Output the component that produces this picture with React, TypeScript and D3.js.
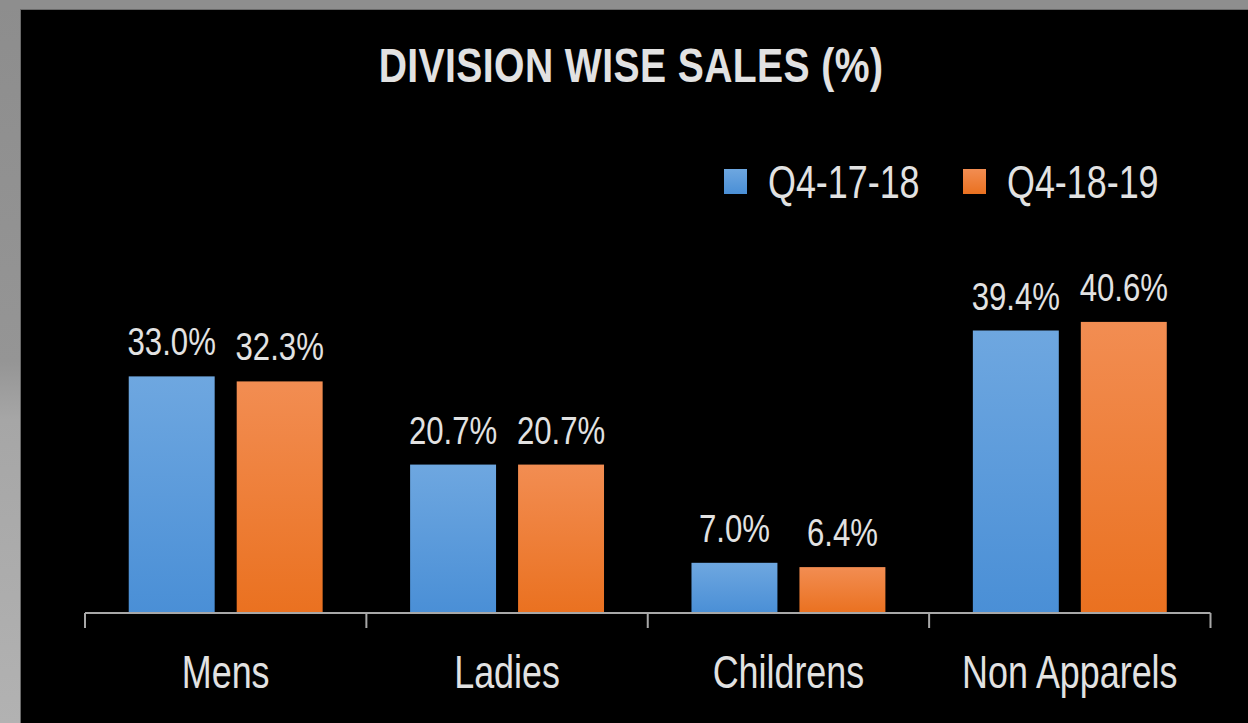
import React from "react";
import * as d3 from "d3";

const categories = ["Mens", "Ladies", "Childrens", "Non Apparels"];
const seriesNames = ["Q4-17-18", "Q4-18-19"];
const q41718 = [33.0, 20.7, 7.0, 39.4];
const q41819 = [32.3, 20.7, 6.4, 40.6];
const seriesValues = [q41718, q41819];
const title = "DIVISION WISE SALES (%)";

const W = 1248;
const H = 723;
const FONT = "'Liberation Sans', Arial, sans-serif";
const TEXT = "#e2e2e2";

export default function App() {
  const baseline = 613;
  const y = d3.scaleLinear().domain([0, 45]).range([baseline, baseline - 45 * 7.17]);
  const x = d3.scaleBand<string>().domain(categories).range([85, 1210.5]).paddingInner(0).paddingOuter(0);
  const xs = d3
    .scaleBand<string>()
    .domain(seriesNames)
    .range([0, x.bandwidth()])
    .paddingInner(0.204)
    .paddingOuter(0.405);

  const tickXs = categories.map((c) => x(c)!).concat([x.range()[1]]);
  const gradIds = ["gBlue", "gOrange"];

  return (
    <svg
      width={W}
      height={H}
      style={{ position: "absolute", left: 0, top: 0, display: "block" }}
      fontFamily={FONT}
    >
      <defs>
        <linearGradient id="frame" x1="0" y1="0" x2="0" y2="1">
          <stop offset="0" stopColor="#8d8d8d" />
          <stop offset="0.5" stopColor="#959595" />
          <stop offset="0.58" stopColor="#a6a6a6" />
          <stop offset="1" stopColor="#b2b2b2" />
        </linearGradient>
        <linearGradient id="gBlue" x1="0" y1="0" x2="0" y2="1">
          <stop offset="0" stopColor="#6ea7e0" />
          <stop offset="1" stopColor="#4a8fd6" />
        </linearGradient>
        <linearGradient id="gOrange" x1="0" y1="0" x2="0" y2="1">
          <stop offset="0" stopColor="#f28d52" />
          <stop offset="1" stopColor="#ea7120" />
        </linearGradient>
      </defs>
      <rect x={0} y={0} width={W} height={H} fill="url(#frame)" />
      <rect x={0} y={0} width={W} height={10} fill="#8e8e8e" />
      <rect x={20} y={9} width={W - 20} height={H - 9} fill="#6a6a6a" />
      <rect x={21} y={10} width={W - 21} height={H - 10} fill="#000" />

      <text
        transform={`translate(631,82) scale(0.815,1)`}
        textAnchor="middle"
        fontSize={48}
        fontWeight="bold"
        fill={TEXT}
        letterSpacing={0.5}
      >
        {title}
      </text>

      {/* legend */}
      {seriesNames.map((s, i) => {
        const lx = [724, 963][i];
        return (
          <g key={s}>
            <rect x={lx} y={169} width={23} height={25} fill={`url(#${gradIds[i]})`} />
            <text
              transform={`translate(${lx + 44},198) scale(0.78,1)`}
              fontSize={46}
              fill={TEXT}
            >
              {s}
            </text>
          </g>
        );
      })}

      {/* bars */}
      {categories.map((c, ci) => (
        <g key={c}>
          {seriesNames.map((s, si) => {
            const v = seriesValues[si][ci];
            const bx = x(c)! + xs(s)!;
            const top = y(v);
            return (
              <g key={s}>
                <rect
                  x={bx}
                  y={top}
                  width={xs.bandwidth()}
                  height={baseline - top}
                  fill={`url(#${gradIds[si]})`}
                />
                <text
                  transform={`translate(${bx + xs.bandwidth() / 2},${top - 21}) scale(0.82,1)`}
                  textAnchor="middle"
                  fontSize={38}
                  fill={TEXT}
                >
                  {v.toFixed(1) + "%"}
                </text>
              </g>
            );
          })}
          <text
            transform={`translate(${x(c)! + x.bandwidth() / 2},688) scale(0.78,1)`}
            textAnchor="middle"
            fontSize={46}
            fill={TEXT}
          >
            {c}
          </text>
        </g>
      ))}

      {/* axis */}
      <line x1={x.range()[0]} x2={x.range()[1]} y1={baseline} y2={baseline} stroke="#a8a8a8" strokeWidth={2} />
      {tickXs.map((tx, i) => (
        <line key={i} x1={tx} x2={tx} y1={baseline} y2={628} stroke="#a8a8a8" strokeWidth={2} />
      ))}
    </svg>
  );
}
